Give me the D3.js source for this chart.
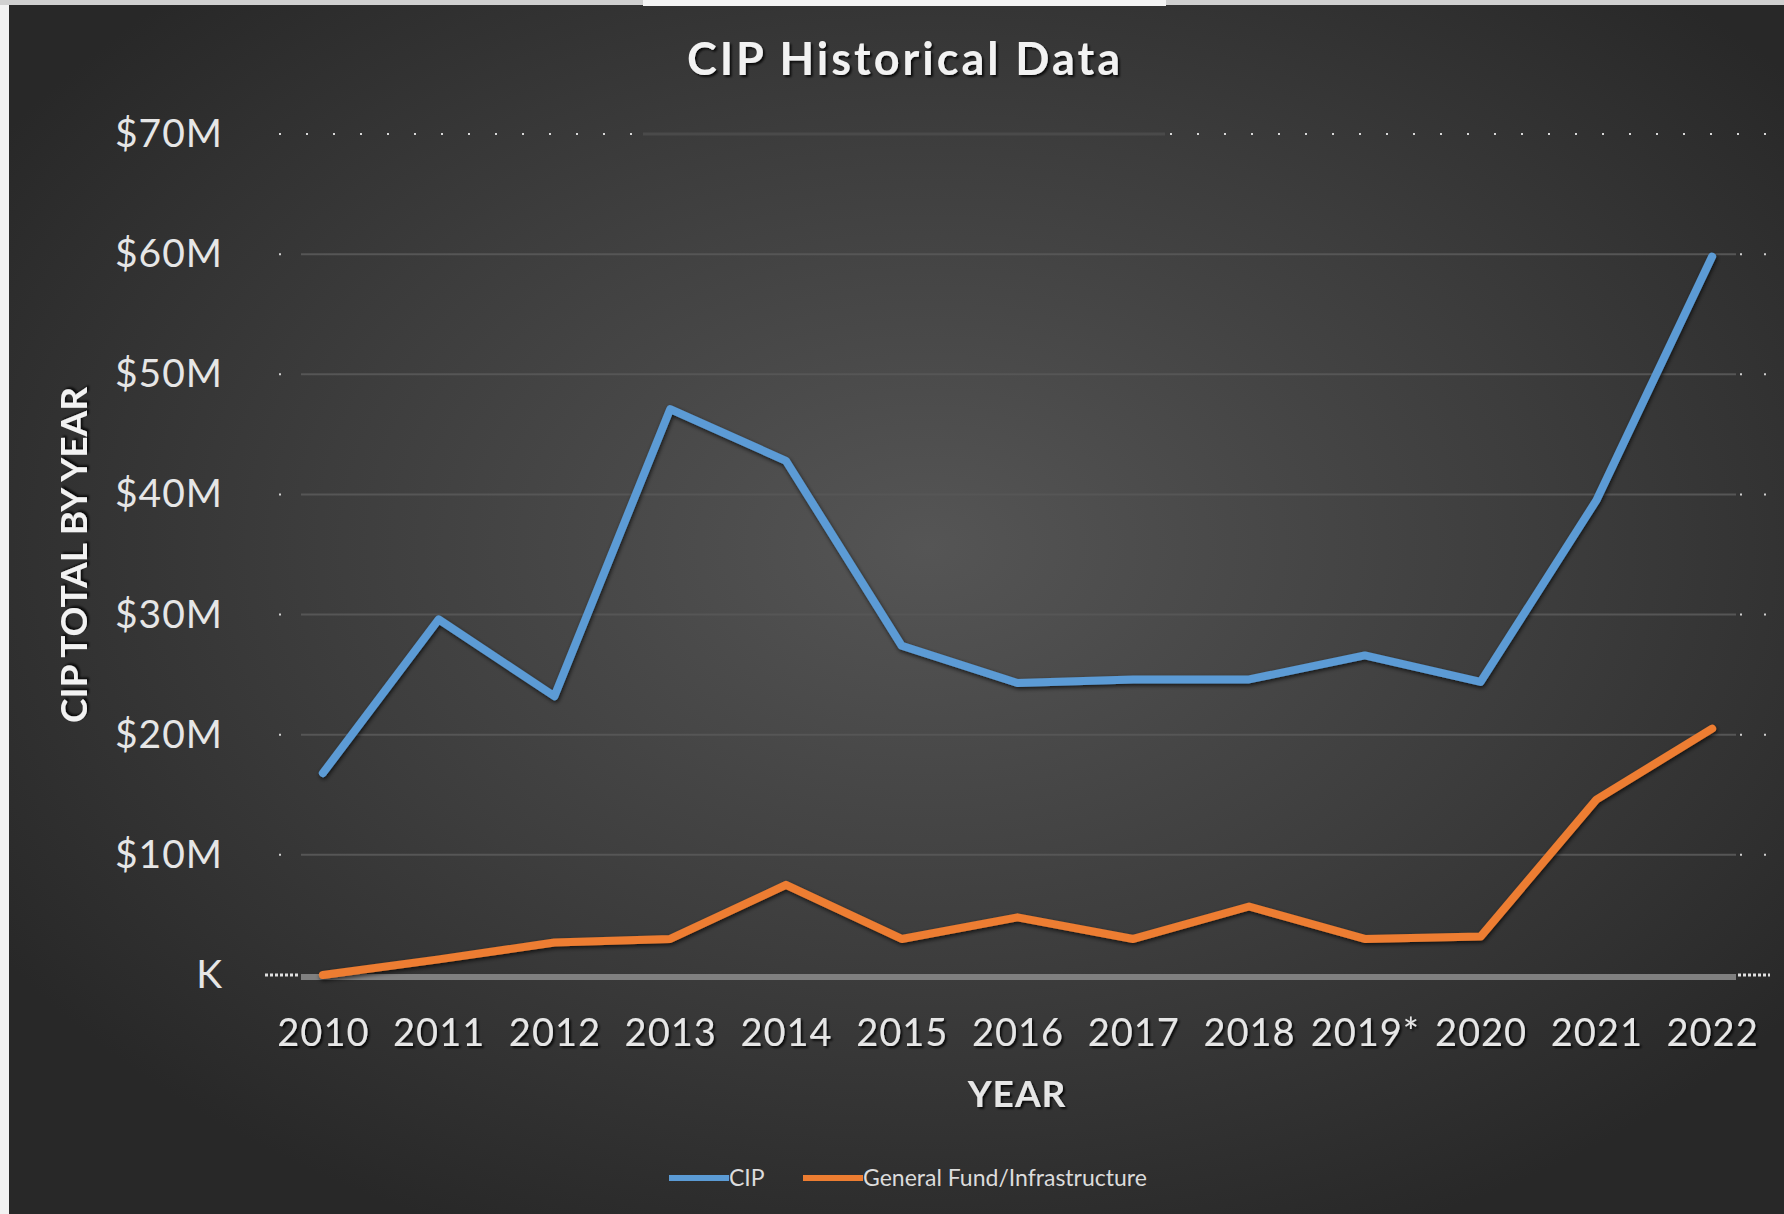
<!DOCTYPE html>
<html>
<head>
<meta charset="utf-8">
<script src="https://cdn.jsdelivr.net/npm/d3@7"></script>
<style>
  html, body { margin: 0; padding: 0; background: #fff; }
  svg { display: block; font-family: Lato, "Open Sans", sans-serif; }
</style>
</head>
<body>
<svg id="chart" width="1784" height="1214"></svg>
<script>
/*Data*/
var years = ['2010', '2011', '2012', '2013', '2014', '2015', '2016', '2017', '2018', '2019*', '2020', '2021', '2022'];
var cip = [16.8, 29.6, 23.2, 47.1, 42.8, 27.4, 24.3, 24.6, 24.6, 26.6, 24.4, 39.5, 59.8];
var generalFund = [0, 1.3, 2.7, 3.0, 7.5, 3.0, 4.8, 3.0, 5.7, 3.0, 3.2, 14.6, 20.5];
var yTicks = [0, 10, 20, 30, 40, 50, 60, 70];
var yTickLabels = ['K', '$10M', '$20M', '$30M', '$40M', '$50M', '$60M', '$70M'];
var seriesNames = ['CIP', 'General Fund/Infrastructure'];
var seriesColors = ['#5b9bd5', '#ed7d31'];

var svg = d3.select('#chart'),
    W = +svg.attr('width'),
    H = +svg.attr('height'),
    margin = {top: 134, right: 14, bottom: 239, left: 265},
    width = W - margin.left - margin.right,
    height = H - margin.top - margin.bottom;

var defs = svg.append('defs');

/*Background*/
var bg = defs.append('radialGradient')
    .attr('id', 'bg')
    .attr('cx', '0.52').attr('cy', '0.45').attr('r', '0.62');
bg.append('stop').attr('offset', '0%').attr('stop-color', '#555555');
bg.append('stop').attr('offset', '55%').attr('stop-color', '#3d3d3d');
bg.append('stop').attr('offset', '100%').attr('stop-color', '#282828');

var shadow = defs.append('filter').attr('id', 'shadow')
    .attr('x', '-5%').attr('y', '-5%').attr('width', '110%').attr('height', '120%');
shadow.append('feDropShadow')
    .attr('dx', 1).attr('dy', 2).attr('stdDeviation', 2)
    .attr('flood-color', '#000').attr('flood-opacity', 0.7);

var textShadow = defs.append('filter').attr('id', 'tshadow');
textShadow.append('feDropShadow')
    .attr('dx', 2).attr('dy', 2).attr('stdDeviation', 1)
    .attr('flood-color', '#000').attr('flood-opacity', 0.8);

svg.append('rect').attr('width', W).attr('height', H).attr('fill', 'url(#bg)');
svg.append('rect').attr('x', 0).attr('y', 0).attr('width', 9).attr('height', H).attr('fill', '#f2f2f2');
svg.append('rect').attr('x', 0).attr('y', 0).attr('width', W).attr('height', 5).attr('fill', '#d0d0d0');
svg.append('rect').attr('x', 643).attr('y', 0).attr('width', 523).attr('height', 6).attr('fill', '#f4f4f4');

/*Scales*/
var x = d3.scalePoint().domain(years).range([0, width]).padding(0.5),
    y = d3.scaleLinear().domain([0, 70]).range([height, 0]);

var g = svg.append('g')
    .attr('transform', 'translate(' + margin.left + ',' + margin.top + ')');

/*Gridlines*/
var gridL = 14, gridR = width;
var grid = g.append('g').attr('class', 'grid');
grid.selectAll('.gl')
    .data(yTicks.slice(1, -1))
  .enter().append('line')
    .attr('x1', gridL + 22).attr('x2', gridR - 34)
    .attr('y1', function(d) { return y(d); })
    .attr('y2', function(d) { return y(d); })
    .attr('stroke', '#565656').attr('stroke-width', 2);
// dotted ends of each gridline
grid.selectAll('.gd')
    .data(yTicks.slice(1, -1))
  .enter().append('path')
    .attr('d', function(d) {
      return 'M' + gridL + ',' + y(d) + 'H' + (gridL + 22) +
             'M' + (gridR - 30) + ',' + y(d) + 'H' + gridR;
    })
    .attr('stroke', '#cfcfcf').attr('stroke-width', 2)
    .attr('stroke-dasharray', '2,22');
// top gridline: dotted with a faint solid middle
grid.append('line')
    .attr('x1', gridL).attr('x2', gridR)
    .attr('y1', y(70)).attr('y2', y(70))
    .attr('stroke', '#d8d8d8').attr('stroke-width', 2)
    .attr('stroke-dasharray', '2,25');
grid.append('line')
    .attr('x1', 378).attr('x2', 900)
    .attr('y1', y(70)).attr('y2', y(70))
    .attr('stroke', '#4a4a4a').attr('stroke-width', 3);

/*Baseline*/
g.append('line')
    .attr('x1', 36).attr('x2', width - 34)
    .attr('y1', y(0) + 2).attr('y2', y(0) + 2)
    .attr('stroke', '#808080').attr('stroke-width', 6);
g.append('path')
    .attr('d', 'M0,' + (y(0)) + 'H34M' + (width - 32) + ',' + (y(0)) + 'H' + width)
    .attr('stroke', '#e0e0e0').attr('stroke-width', 3)
    .attr('stroke-dasharray', '3,2');

/*Y axis*/
g.append('g')
    .call(d3.axisLeft(y).tickValues(yTicks).tickSize(0).tickPadding(42)
      .tickFormat(function(d, i) { return yTickLabels[i]; }))
    .call(function(s) {
      s.select('.domain').remove();
      s.selectAll('text')
        .attr('fill', '#e6e6e6')
        .attr('font-size', 39)
        .attr('font-family', 'Lato, sans-serif')
        .attr('letter-spacing', 1);
    });

/*X axis*/
g.append('g')
    .attr('transform', 'translate(0,' + height + ')')
    .call(d3.axisBottom(x).tickSize(0).tickPadding(44))
    .call(function(s) {
      s.select('.domain').remove();
      s.selectAll('text')
        .attr('fill', '#e6e6e6')
        .attr('font-size', 38)
        .attr('font-family', 'Lato, sans-serif')
        .attr('letter-spacing', 1)
        .attr('filter', 'url(#tshadow)');
    });

/*Lines*/
var line = d3.line()
    .x(function(d, i) { return x(years[i]); })
    .y(function(d) { return y(d); });

[cip, generalFund].forEach(function(values, k) {
  g.append('path')
      .datum(values)
      .attr('fill', 'none')
      .attr('stroke', seriesColors[k])
      .attr('stroke-width', 8)
      .attr('stroke-linejoin', 'round')
      .attr('stroke-linecap', 'round')
      .attr('filter', 'url(#shadow)')
      .attr('d', line);
});

/*Titles*/
svg.append('text')
    .attr('x', 905).attr('y', 75)
    .attr('text-anchor', 'middle')
    .attr('fill', '#f2f2f2')
    .attr('font-size', 45)
    .attr('font-weight', 'bold')
    .attr('letter-spacing', 3)
    .attr('filter', 'url(#tshadow)')
    .text('CIP Historical Data');

svg.append('text')
    .attr('x', 1017).attr('y', 1107)
    .attr('text-anchor', 'middle')
    .attr('fill', '#e6e6e6')
    .attr('font-size', 37)
    .attr('font-weight', 'bold')
    .attr('letter-spacing', 1)
    .attr('filter', 'url(#tshadow)')
    .text('YEAR');

svg.append('text')
    .attr('transform', 'translate(87,555) rotate(-90)')
    .attr('text-anchor', 'middle')
    .attr('fill', '#f2f2f2')
    .attr('font-size', 37)
    .attr('font-weight', 'bold')
    .attr('filter', 'url(#tshadow)')
    .text('CIP TOTAL BY YEAR');

/*Legend*/
var legend = svg.append('g').attr('transform', 'translate(0,1178)');
var legendPos = [669, 803];
seriesNames.forEach(function(name, k) {
  legend.append('line')
      .attr('x1', legendPos[k]).attr('x2', legendPos[k] + 60)
      .attr('y1', 0).attr('y2', 0)
      .attr('stroke', seriesColors[k])
      .attr('stroke-width', 6);
  legend.append('text')
      .attr('x', legendPos[k] + 60).attr('y', 8)
      .attr('fill', '#dcdcdc')
      .attr('font-size', 23)
      .text(name);
});
</script>
</body>
</html>
